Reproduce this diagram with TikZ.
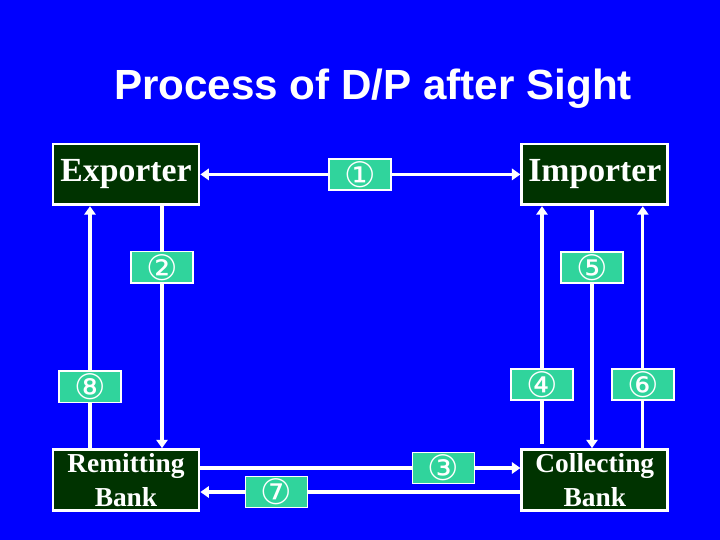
\documentclass[tikz,border=0pt]{standalone}
\usepackage{fontspec}
\setmainfont{Liberation Serif}
\newfontfamily\titlefont{Liberation Sans}
\newfontfamily\circfont{DejaVu Sans}
\usetikzlibrary{arrows.meta, positioning}
\definecolor{dpBlue}{HTML}{0000FF}
\definecolor{dpParty}{HTML}{003300}
\definecolor{dpStep}{HTML}{30D49C}

\begin{document}
\begin{tikzpicture}[
  party/.style={draw=white, line width=2pt, fill=dpParty, text=white,
                minimum width=3.65cm, minimum height=1.52cm, inner sep=0pt,
                font=\bfseries\fontsize{24}{28}\selectfont},
  bank/.style={party, align=center, font=\bfseries\fontsize{19.5}{24}\selectfont},
  stepno/.style={draw=white, line width=1.2pt, fill=dpStep, text=white,
                 minimum width=1.55cm, minimum height=0.78cm, inner sep=0pt,
                 font=\circfont\fontsize{25}{25}\selectfont},
  flow/.style={draw=white, line width=2.3pt, -{Triangle[length=6pt,width=8pt]}},
]
  \fill[dpBlue] (0,0) rectangle (18,13.5);
  \useasboundingbox (0,0) rectangle (18,13.5);

  % TITLE
  \node[font=\titlefont\bfseries\fontsize{30}{36}\selectfont, text=white, anchor=base]
    (title) at (9.325,11.0) {Process of D/P after Sight};

  % PARTIES
  \node[party] (exporter) at (3.15,9.14) {Exporter};
  \node[party] (importer) at (14.87,9.14) {Importer};
  \node[bank] (remit) at (3.15,1.5) {Remitting\\Bank};
  \node[bank] (collect) at (14.87,1.5) {Collecting\\Bank};

  % STEP POSITIONS
  \coordinate (p1) at (9.0,9.14);
  \coordinate (p2) at (4.05,6.82);
  \coordinate (p3) at (11.09,1.8);
  \coordinate (p4) at (13.55,3.89);
  \coordinate (p5) at (14.8,6.81);
  \coordinate (p6) at (16.07,3.89);
  \coordinate (p7) at (6.91,1.2);
  \coordinate (p8) at (2.25,3.83);

  % FLOWS
  \draw[flow, {Triangle[length=6pt,width=8pt]}-{Triangle[length=6pt,width=8pt]}]
    (exporter.east) -- (importer.west);
  \draw[flow] (exporter.south -| p2) -- (remit.north -| p2);
  \draw[flow] (remit.east |- p3) -- (collect.west |- p3);
  \draw[flow, shorten <=3pt] (collect.north -| p4) -- (importer.south -| p4);
  \draw[flow, shorten <=3pt] (importer.south -| p5) -- (collect.north -| p5);
  \draw[flow] (collect.north -| p6) -- (importer.south -| p6);
  \draw[flow] (collect.west |- p7) -- (remit.east |- p7);
  \draw[flow] (remit.north -| p8) -- (exporter.south -| p8);

  % STEP LABELS
  \node[stepno] (s1) at (p1) {①};
  \node[stepno] (s2) at (p2) {②};
  \node[stepno] (s3) at (p3) {③};
  \node[stepno] (s4) at (p4) {④};
  \node[stepno] (s5) at (p5) {⑤};
  \node[stepno] (s6) at (p6) {⑥};
  \node[stepno] (s7) at (p7) {⑦};
  \node[stepno] (s8) at (p8) {⑧};
\end{tikzpicture}
\end{document}
